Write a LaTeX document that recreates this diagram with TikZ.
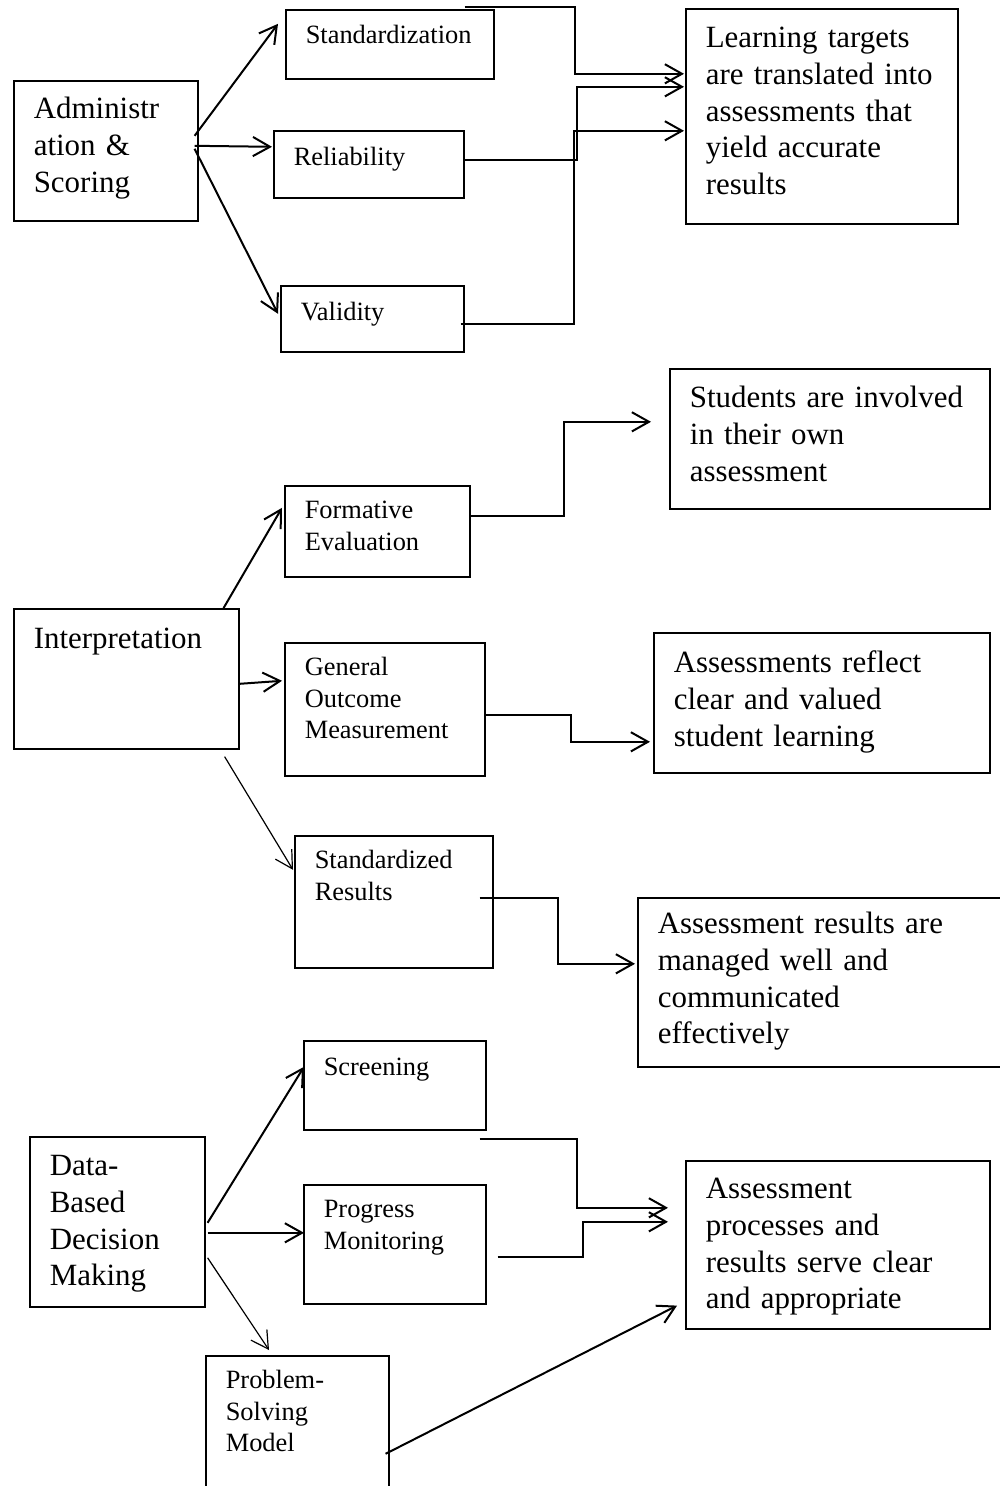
\documentclass[tikz,border=0pt]{standalone}
\usepackage{fontspec}
\setmainfont{Liberation Serif}
\usetikzlibrary{arrows.meta}

\newcommand{\bigtxt}{\fontsize{11.6}{13.76}\selectfont}
\newcommand{\smalltxt}{\fontsize{9.9}{11.8}\selectfont}

\begin{document}
\begin{tikzpicture}[x=0.375pt,y=-0.375pt,>={Straight Barb[length=6.4pt,width=7.2pt]}]

	\tikzstyle{box}=[rectangle,draw=black,line width=0.6pt,anchor=north west,align=left,inner xsep=7.5pt,inner ysep=0pt]
	\tikzstyle{big}=[box,font=\bigtxt]
	\tikzstyle{small}=[box,font=\smalltxt]
	\tikzstyle{link}=[->,line width=0.75pt]
	\tikzstyle{thin link}=[->,line width=0.45pt]

	\useasboundingbox (0,0) rectangle (999,1486);

	% administration and scoring
	\node [big,text width=54pt,text height=14.25pt,text depth=38.25pt] (adm) at (13,80) {Administr\\ation \&\\Scoring};
	\node [small,text width=63pt,text height=12.75pt,text depth=13.125pt] (stdz) at (285,9) {Standardization};
	\node [small,text width=56.25pt,text height=13.125pt,text depth=12pt] (rel) at (273,130) {Reliability};
	\node [small,text width=53.625pt,text height=13.125pt,text depth=11.625pt] (val) at (280,285) {Validity};
	\node [big,text width=87pt,text height=14.625pt,text depth=66pt] (learn) at (685,8) {Learning targets\\are translated into\\assessments that\\yield accurate\\results};

	\draw [link] ([shift={(-4,-15)}]adm.east) -- ([shift={(-7,-20.5)}]stdz.west);
	\draw [link] ([shift={(-4,-5)}]adm.east) -- ([shift={(-1,-17.5)}]rel.west);
	\draw [link] ([shift={(-4,-2)}]adm.east) -- ([shift={(-2,-5)}]val.west);
	\draw [link] ([shift={(-30,-2)}]stdz.north east) -- ++(110,0) |- ([shift={(-1,-42.5)}]learn.west);
	\draw [link] ([shift={(0,-4.5)}]rel.east) -- ++(112,0) |- ([shift={(-1,-29.5)}]learn.west);
	\draw [link] ([shift={(-4,5)}]val.east) -- ++(113,0) |- ([shift={(-1,14.5)}]learn.west);

	% interpretation
	\node [big,text width=69.375pt,text height=15pt,text depth=37.5pt] (interp) at (13,608) {Interpretation};
	\node [small,text width=54.375pt,text height=12.375pt,text depth=21.75pt] (form) at (284,485) {Formative\\Evaluation};
	\node [small,text width=60pt,text height=12.375pt,text depth=37.5pt] (gom) at (284,642) {General\\Outcome\\Measurement};
	\node [small,text width=59.25pt,text height=12.375pt,text depth=37.125pt] (stdres) at (294,835) {Standardized\\Results};
	\node [big,text width=105pt,text height=14.625pt,text depth=37.875pt] (involved) at (669,368) {Students are involved\\in their own\\assessment};
	\node [big,text width=111pt,text height=15pt,text depth=37.5pt] (reflect) at (653,632) {Assessments reflect\\clear and valued\\student learning};
	\node [big,text width=124.875pt,text height=13.5pt,text depth=49.875pt] (managed) at (637,897) {Assessment results are\\managed well and\\communicated\\effectively};

	\draw [link] ([shift={(-16,0)}]interp.north east) -- ([shift={(-2,-23.5)}]form.west);
	\draw [link] ([shift={(0,5)}]interp.east) -- ([shift={(-2,-28.5)}]gom.west);
	\draw [thin link] ([shift={(-15,7)}]interp.south east) -- ([shift={(-1,-32)}]stdres.west);
	\draw [link] ([shift={(0,-15.5)}]form.east) -- ++(93,0) |- ([shift={(-18,-17)}]involved.west);
	\draw [link] ([shift={(0,5.5)}]gom.east) -- ++(85,0) |- ([shift={(-3,39)}]reflect.west);
	\draw [link] ([shift={(-14,-4)}]stdres.east) -- ++(78,0) |- ([shift={(-2,-18.5)}]managed.west);

	% data-based decision making
	\node [big,text width=50.625pt,text height=14.625pt,text depth=49.125pt] (dbdm) at (29,1136) {Data-\\Based\\Decision\\Making};
	\node [small,text width=53.25pt,text height=13.125pt,text depth=20.25pt] (screen) at (303,1040) {Screening};
	\node [small,text width=53.25pt,text height=12.375pt,text depth=32.25pt] (prog) at (303,1184) {Progress\\Monitoring};
	\node [small,text width=53.625pt,text height=12.375pt,text depth=40.5pt] (psm) at (205,1355) {Problem-\\Solving\\Model};
	\node [big,text width=99pt,text height=14.25pt,text depth=48.75pt] (serve) at (685,1160) {Assessment\\processes and\\results serve clear\\and appropriate};

	\draw [link] ([shift={(2,1)}]dbdm.east) -- ([shift={(1,-18.5)}]screen.west);
	\draw [link] ([shift={(2,11)}]dbdm.east) -- ([shift={(1,-11.5)}]prog.west);
	\draw [thin link] ([shift={(2,36)}]dbdm.east) -- ([shift={(64,-5)}]psm.north west);
	\draw [link] ([shift={(-7,8)}]screen.south east) -- ++(97,0) |- ([shift={(-17,-37)}]serve.west);
	\draw [link] ([shift={(11,12.5)}]prog.east) -- ++(85,0) |- ([shift={(-17,-23)}]serve.west);
	\draw [link] ([shift={(-4,27.5)}]psm.east) -- ([shift={(-8,-24)}]serve.south west);

\end{tikzpicture}
\end{document}
